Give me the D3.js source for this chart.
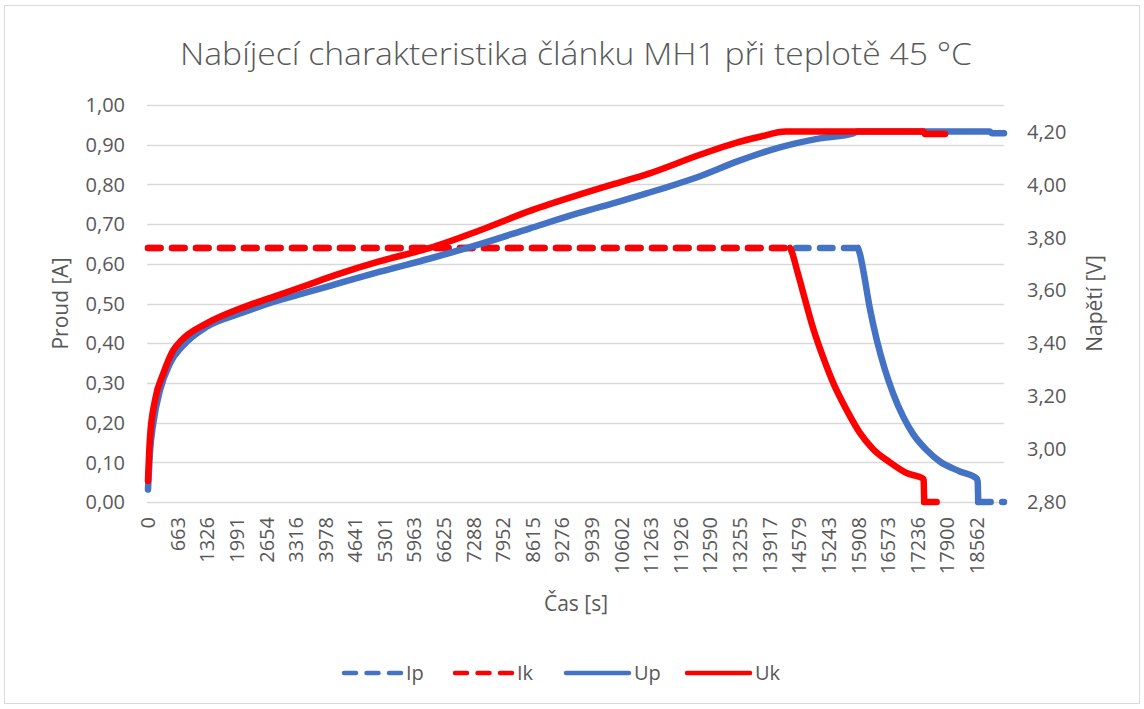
<!DOCTYPE html>
<html>
<head>
<meta charset="utf-8">
<script src="https://cdn.jsdelivr.net/npm/d3@7"></script>
<style>
  html, body { margin: 0; padding: 0; background: #fff; }
  svg { display: block; }
  text { font-family: "Open Sans", "Noto Sans", sans-serif; fill: #595959; }
</style>
</head>
<body>
<svg id="chart" width="1144" height="709"></svg>
<script>
// Charging characteristic of cell MH1 at 45 °C
const titleText = "Nabíjecí charakteristika článku MH1 při teplotě 45 °C";

// time axis labels [s]
const timeTicks = [0, 663, 1326, 1991, 2654, 3316, 3978, 4641, 5301, 5963, 6625, 7288,
  7952, 8615, 9276, 9939, 10602, 11263, 11926, 12590, 13255, 13917, 14579, 15243,
  15908, 16573, 17236, 17900, 18562];
const timeMax = 19170;

// current axis [A] and voltage axis [V]
const currentTicks = [0, 0.1, 0.2, 0.3, 0.4, 0.5, 0.6, 0.7, 0.8, 0.9, 1.0];
const voltageTicks = [2.8, 3.0, 3.2, 3.4, 3.6, 3.8, 4.0, 4.2];
const voltageDomain = [2.8, 4.3];

// Ip – charging current, cell "p"
const ipTime = [0, 15898, 15943, 16017, 16167, 16317, 16502, 16688, 16912, 17136, 17436,
  17734, 18182, 18556, 18580, 18592, 19170];
const ipAmp = [0.64, 0.64, 0.625, 0.584, 0.487, 0.410, 0.334, 0.273, 0.215, 0.171, 0.131,
  0.102, 0.077, 0.059, 0.052, 0, 0];

// Ik – charging current, cell "k"
const ikTime = [0, 14375, 14412, 14525, 14673, 14897, 15121, 15345, 15645, 15943, 16240,
  16614, 16988, 17360, 17370, 17382, 17850];
const ikAmp = [0.64, 0.64, 0.632, 0.588, 0.527, 0.437, 0.364, 0.300, 0.232, 0.174, 0.133,
  0.100, 0.073, 0.059, 0.055, 0, 0];

// Up – cell voltage, cell "p"
const upTime = [0, 40, 119, 269, 493, 790, 1314, 2060, 2806, 3553, 4225, 5195, 6314, 7434,
  8553, 9673, 10569, 11166, 12360, 13182, 14151, 15047, 15793, 15900, 18850, 18900, 19170];
const upVolt = [2.847, 2.98, 3.098, 3.222, 3.324, 3.392, 3.462, 3.512, 3.556, 3.592, 3.624,
  3.670, 3.720, 3.774, 3.834, 3.893, 3.936, 3.966, 4.031, 4.086, 4.140, 4.174, 4.193,
  4.20, 4.20, 4.193, 4.193];

// Uk – cell voltage, cell "k"
const ukTime = [0, 45, 157, 343, 566, 755, 1314, 2060, 2806, 3553, 4225, 5195, 6314, 7434,
  8553, 9673, 10569, 11166, 12360, 13182, 13703, 14280, 17370, 17400, 17850];
const ukVolt = [2.88, 3.046, 3.185, 3.286, 3.374, 3.412, 3.475, 3.531, 3.575, 3.619, 3.659,
  3.710, 3.760, 3.827, 3.900, 3.962, 4.008, 4.038, 4.112, 4.158, 4.180, 4.20, 4.20,
  4.19, 4.19];

const seriesNames = ["Ip", "Ik", "Up", "Uk"];
const BLUE = "#4472c4", RED = "#ff0000";

const series = [
  { name: "Ip", t: ipTime, v: ipAmp, axis: "left", color: BLUE, dashed: true },
  { name: "Ik", t: ikTime, v: ikAmp, axis: "left", color: RED, dashed: true },
  { name: "Up", t: upTime, v: upVolt, axis: "right", color: BLUE, dashed: false },
  { name: "Uk", t: ukTime, v: ukVolt, axis: "right", color: RED, dashed: false }
];

const svg = d3.select("#chart");
const plot = { left: 148, right: 1004, top: 105, bottom: 502 };

// chart frame
svg.append("rect")
  .attr("x", 4.5).attr("y", 5.5).attr("width", 1135).attr("height", 698)
  .attr("fill", "#fff").attr("stroke", "#d9d9d9").attr("stroke-width", 1);

const x = d3.scaleLinear().domain([0, timeMax]).range([plot.left, plot.right]);
const yL = d3.scaleLinear().domain([0, 1]).range([plot.bottom, plot.top]);
const yR = d3.scaleLinear().domain(voltageDomain).range([plot.bottom, plot.top]);

const fmt2 = v => d3.format(".2f")(v).replace(".", ",");

// horizontal gridlines
svg.append("g").selectAll("line").data(currentTicks).join("line")
  .attr("x1", plot.left - 1).attr("x2", plot.right)
  .attr("y1", d => Math.round(yL(d)) + 0.5).attr("y2", d => Math.round(yL(d)) + 0.5)
  .attr("stroke", "#d9d9d9").attr("stroke-width", 1.3);

// left axis labels
svg.append("g").selectAll("text").data(currentTicks).join("text")
  .attr("x", 125).attr("y", d => yL(d)).attr("dy", "0.36em")
  .attr("text-anchor", "end").attr("font-size", 20)
  .text(fmt2);

// right axis labels
svg.append("g").selectAll("text").data(voltageTicks).join("text")
  .attr("x", 1027).attr("y", d => yR(d)).attr("dy", "0.36em")
  .attr("text-anchor", "start").attr("font-size", 20)
  .text(fmt2);

// bottom axis labels (rotated)
svg.append("g").selectAll("text").data(timeTicks).join("text")
  .attr("transform", d => `translate(${x(d)},517) rotate(-90)`)
  .attr("dy", "0.36em")
  .attr("text-anchor", "end").attr("font-size", 20)
  .text(d => d);

// axis titles
svg.append("text")
  .attr("transform", `translate(60,${(plot.top + plot.bottom) / 2}) rotate(-90)`)
  .attr("dy", "0.36em").attr("text-anchor", "middle").attr("font-size", 21)
  .text("Proud [A]");
svg.append("text")
  .attr("transform", `translate(1094,${(plot.top + plot.bottom) / 2}) rotate(-90)`)
  .attr("dy", "0.36em").attr("text-anchor", "middle").attr("font-size", 21)
  .text("Napětí [V]");
svg.append("text")
  .attr("x", (plot.left + plot.right) / 2).attr("y", 611)
  .attr("text-anchor", "middle").attr("font-size", 21)
  .text("Čas [s]");

// title
svg.append("text")
  .attr("x", 576).attr("y", 65)
  .attr("text-anchor", "middle").attr("font-size", 32).attr("font-weight", 300)
  .attr("textLength", 792).attr("lengthAdjust", "spacingAndGlyphs")
  .text(titleText);

// split a series into runs of constant value (drawn dashed) and changing value (solid)
function runs(ts, vs) {
  const out = [];
  for (let i = 0; i < ts.length - 1; i++) {
    const flat = vs[i] === vs[i + 1];
    const last = out[out.length - 1];
    if (last && last.flat === flat) last.pts.push([ts[i + 1], vs[i + 1]]);
    else out.push({ flat, pts: [[ts[i], vs[i]], [ts[i + 1], vs[i + 1]]] });
  }
  return out;
}

const DASH = "12.5,11.5";
const linesG = svg.append("g");
series.forEach(s => {
  const yS = s.axis === "left" ? yL : yR;
  const line = d3.line().x(d => x(d[0])).y(d => yS(d[1])).curve(d3.curveMonotoneX);
  const pieces = s.dashed
    ? runs(s.t, s.v)
    : [{ flat: false, pts: s.t.map((t, i) => [t, s.v[i]]) }];
  pieces.forEach(p => {
    linesG.append("path")
      .attr("d", line(p.pts))
      .attr("fill", "none")
      .attr("stroke", s.color)
      .attr("stroke-width", 6.5)
      .attr("stroke-linecap", "round")
      .attr("stroke-linejoin", "round")
      .attr("stroke-dasharray", s.dashed && p.flat ? DASH : null);
  });
});

// legend
const legendItems = [
  { name: seriesNames[0], x0: 344, x1: 401, color: BLUE, dashed: true },
  { name: seriesNames[1], x0: 455, x1: 512, color: RED, dashed: true },
  { name: seriesNames[2], x0: 566, x1: 629, color: BLUE, dashed: false },
  { name: seriesNames[3], x0: 687, x1: 750, color: RED, dashed: false }
];
const lg = svg.append("g");
legendItems.forEach(it => {
  lg.append("line")
    .attr("x1", it.x0).attr("x2", it.x1).attr("y1", 673).attr("y2", 673)
    .attr("stroke", it.color).attr("stroke-width", 4.5)
    .attr("stroke-linecap", "round")
    .attr("stroke-dasharray", it.dashed ? "12,10.5" : null);
  lg.append("text")
    .attr("x", it.x1 + 5).attr("y", 673).attr("dy", "0.36em")
    .attr("font-size", 20)
    .text(it.name);
});
</script>
</body>
</html>
